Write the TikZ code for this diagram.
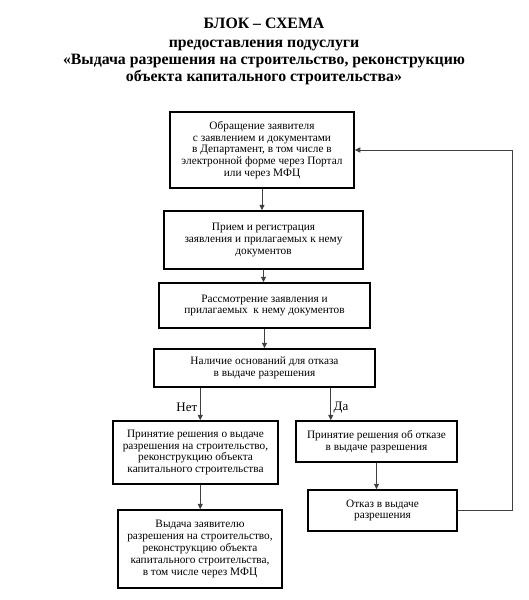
\documentclass[tikz,border=0pt]{standalone}
\usepackage{fontspec}
\setmainfont{Liberation Serif}
\usetikzlibrary{arrows.meta, calc}
\tikzset{
    stage/.style={draw, line width=1.5pt, align=center, inner sep=2pt,
        font=\fontsize{11.3}{11.8}\selectfont},
    flow/.style={-{Triangle[length=5.5pt, width=5pt]}, line width=0.9pt,
        draw=black!75},
    branch/.style={font=\fontsize{13}{15}\selectfont, inner sep=2.5pt},
}

\begin{document}
\begin{tikzpicture}[x=1pt, y=-1pt]
        \useasboundingbox (0, 0) rectangle (529, 600);
        \node[font=\bfseries\fontsize{15.8}{17.2}\selectfont, align=center]
            (title) at (264, 51.5) {БЛОК – СХЕМА\\[2pt]предоставления подуслуги\\
            «Выдача разрешения на строительство, реконструкцию\\
            объекта капитального строительства»};
        \node[stage, minimum width=184pt, minimum height=76pt] (appeal)
            at (262, 150) {Обращение заявителя\\с заявлением и документами\\
            в Департамент, в том числе в\\электронной форме через Портал\\
            или через МФЦ};
        \node[stage, minimum width=199pt, minimum height=58pt] (reg)
            at (263.5, 240) {Прием и регистрация\\заявления и прилагаемых к нему\\
            документов};
        \node[stage, minimum width=211pt, minimum height=45pt] (review)
            at (264.5, 305.5) {Рассмотрение заявления и\\
            прилагаемых\ \ к нему документов};
        \node[stage, minimum width=221pt, minimum height=38pt] (check)
            at (264.5, 368) {Наличие оснований для отказа\\в выдаче разрешения};
        \node[stage, minimum width=165pt, minimum height=63pt] (grant)
            at (195.5, 452.5) {Принятие решения о выдаче\\
            разрешения на строительство,\\реконструкцию объекта\\
            капитального строительства};
        \node[stage, minimum width=161pt, minimum height=41pt] (refuse)
            at (376.5, 441.5) {Принятие решения об отказе\\в выдаче разрешения};
        \node[stage, minimum width=149pt, minimum height=41pt] (denial)
            at (382.5, 510.5) {Отказ в выдаче\\разрешения};
        \node[stage, minimum width=164pt, minimum height=78pt] (issue)
            at (200, 549) {Выдача заявителю\\разрешения на строительство,\\
            реконструкцию объекта\\капитального строительства,\\
            в том числе через МФЦ};
        % branch points under the check box
        \coordinate (no) at ($(check.south west)+(47, 0)$);
        \coordinate (yes) at ($(check.south east)+(-45, 0)$);
        \draw[flow] (appeal.south) -- (appeal.south |- reg.north);
        \draw[flow] (reg.south) -- (reg.south |- review.north);
        \draw[flow] (review.south) -- (review.south |- check.north);
        \draw[flow] (no) -- (no |- grant.north) node[branch, pos=0.6, left]
            {Нет};
        \draw[flow] (yes) -- (yes |- refuse.north) node[branch, pos=0.6,
            right] {Да};
        \draw[flow] (grant.south -| no) -- (issue.north -| no);
        \draw[flow] (refuse.south) -- (refuse.south |- denial.north);
        \draw[flow] (denial.east) -- ++(55, 0) |- (appeal.east);
    \end{tikzpicture}
\end{document}
